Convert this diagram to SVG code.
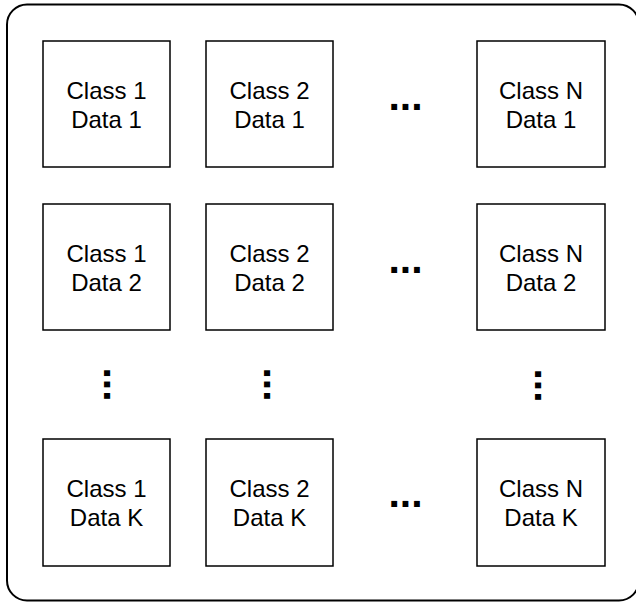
<svg xmlns="http://www.w3.org/2000/svg" width="636" height="602" viewBox="0 0 636 602">
  <style>
    .frame { fill: #ffffff; stroke: #000000; stroke-width: 2; }
    .box { fill: #ffffff; stroke: #000000; stroke-width: 1.5; }
    .lbl { font-family: "Liberation Sans", Arial, sans-serif; font-size: 24px; fill: #000000; text-anchor: middle; }
    .dots { font-family: "Liberation Sans", Arial, sans-serif; font-size: 41px; font-weight: bold; fill: #000000; text-anchor: middle; }
  </style>
  <rect width="636" height="602" fill="#ffffff"/>

  <!-- outer container -->
  <rect id="container" class="frame" x="7" y="4.5" width="632" height="596" rx="20" ry="20"/>

  <!-- row 1 -->
  <g id="c1d1"><rect class="box" x="43" y="41" width="127" height="126"/>
    <text class="lbl" x="106.5" y="99">Class 1</text><text class="lbl" x="106.5" y="128">Data 1</text></g>
  <g id="c2d1"><rect class="box" x="206" y="41" width="127" height="126"/>
    <text class="lbl" x="269.5" y="99">Class 2</text><text class="lbl" x="269.5" y="128">Data 1</text></g>
  <g id="cNd1"><rect class="box" x="477" y="41" width="128" height="126"/>
    <text class="lbl" x="541" y="99">Class N</text><text class="lbl" x="541" y="128">Data 1</text></g>

  <!-- row 2 -->
  <g id="c1d2"><rect class="box" x="43" y="204" width="127" height="126"/>
    <text class="lbl" x="106.5" y="262">Class 1</text><text class="lbl" x="106.5" y="291">Data 2</text></g>
  <g id="c2d2"><rect class="box" x="206" y="204" width="127" height="126"/>
    <text class="lbl" x="269.5" y="262">Class 2</text><text class="lbl" x="269.5" y="291">Data 2</text></g>
  <g id="cNd2"><rect class="box" x="477" y="204" width="128" height="126"/>
    <text class="lbl" x="541" y="262">Class N</text><text class="lbl" x="541" y="291">Data 2</text></g>

  <!-- row K -->
  <g id="c1dK"><rect class="box" x="43" y="439" width="127" height="127"/>
    <text class="lbl" x="106.5" y="497">Class 1</text><text class="lbl" x="106.5" y="526">Data K</text></g>
  <g id="c2dK"><rect class="box" x="206" y="439" width="127" height="127"/>
    <text class="lbl" x="269.5" y="497">Class 2</text><text class="lbl" x="269.5" y="526">Data K</text></g>
  <g id="cNdK"><rect class="box" x="477" y="439" width="128" height="127"/>
    <text class="lbl" x="541" y="497">Class N</text><text class="lbl" x="541" y="526">Data K</text></g>

  <!-- ellipses between columns -->
  <g id="hdots">
    <text class="dots" x="405.5" y="109.5">...</text>
    <text class="dots" x="405.5" y="272.5">...</text>
    <text class="dots" x="405.5" y="507">...</text>
  </g>

  <!-- ellipses between rows -->
  <g id="vdots">
    <text class="dots" x="107" y="387.5" transform="rotate(90 107 384.5)">...</text>
    <text class="dots" x="266.5" y="387.5" transform="rotate(90 266.5 384.5)">...</text>
    <text class="dots" x="538" y="388.5" transform="rotate(90 538 385.5)">...</text>
  </g>

  <!-- no connectors in this figure -->
  <g id="connectors"/>
</svg>
